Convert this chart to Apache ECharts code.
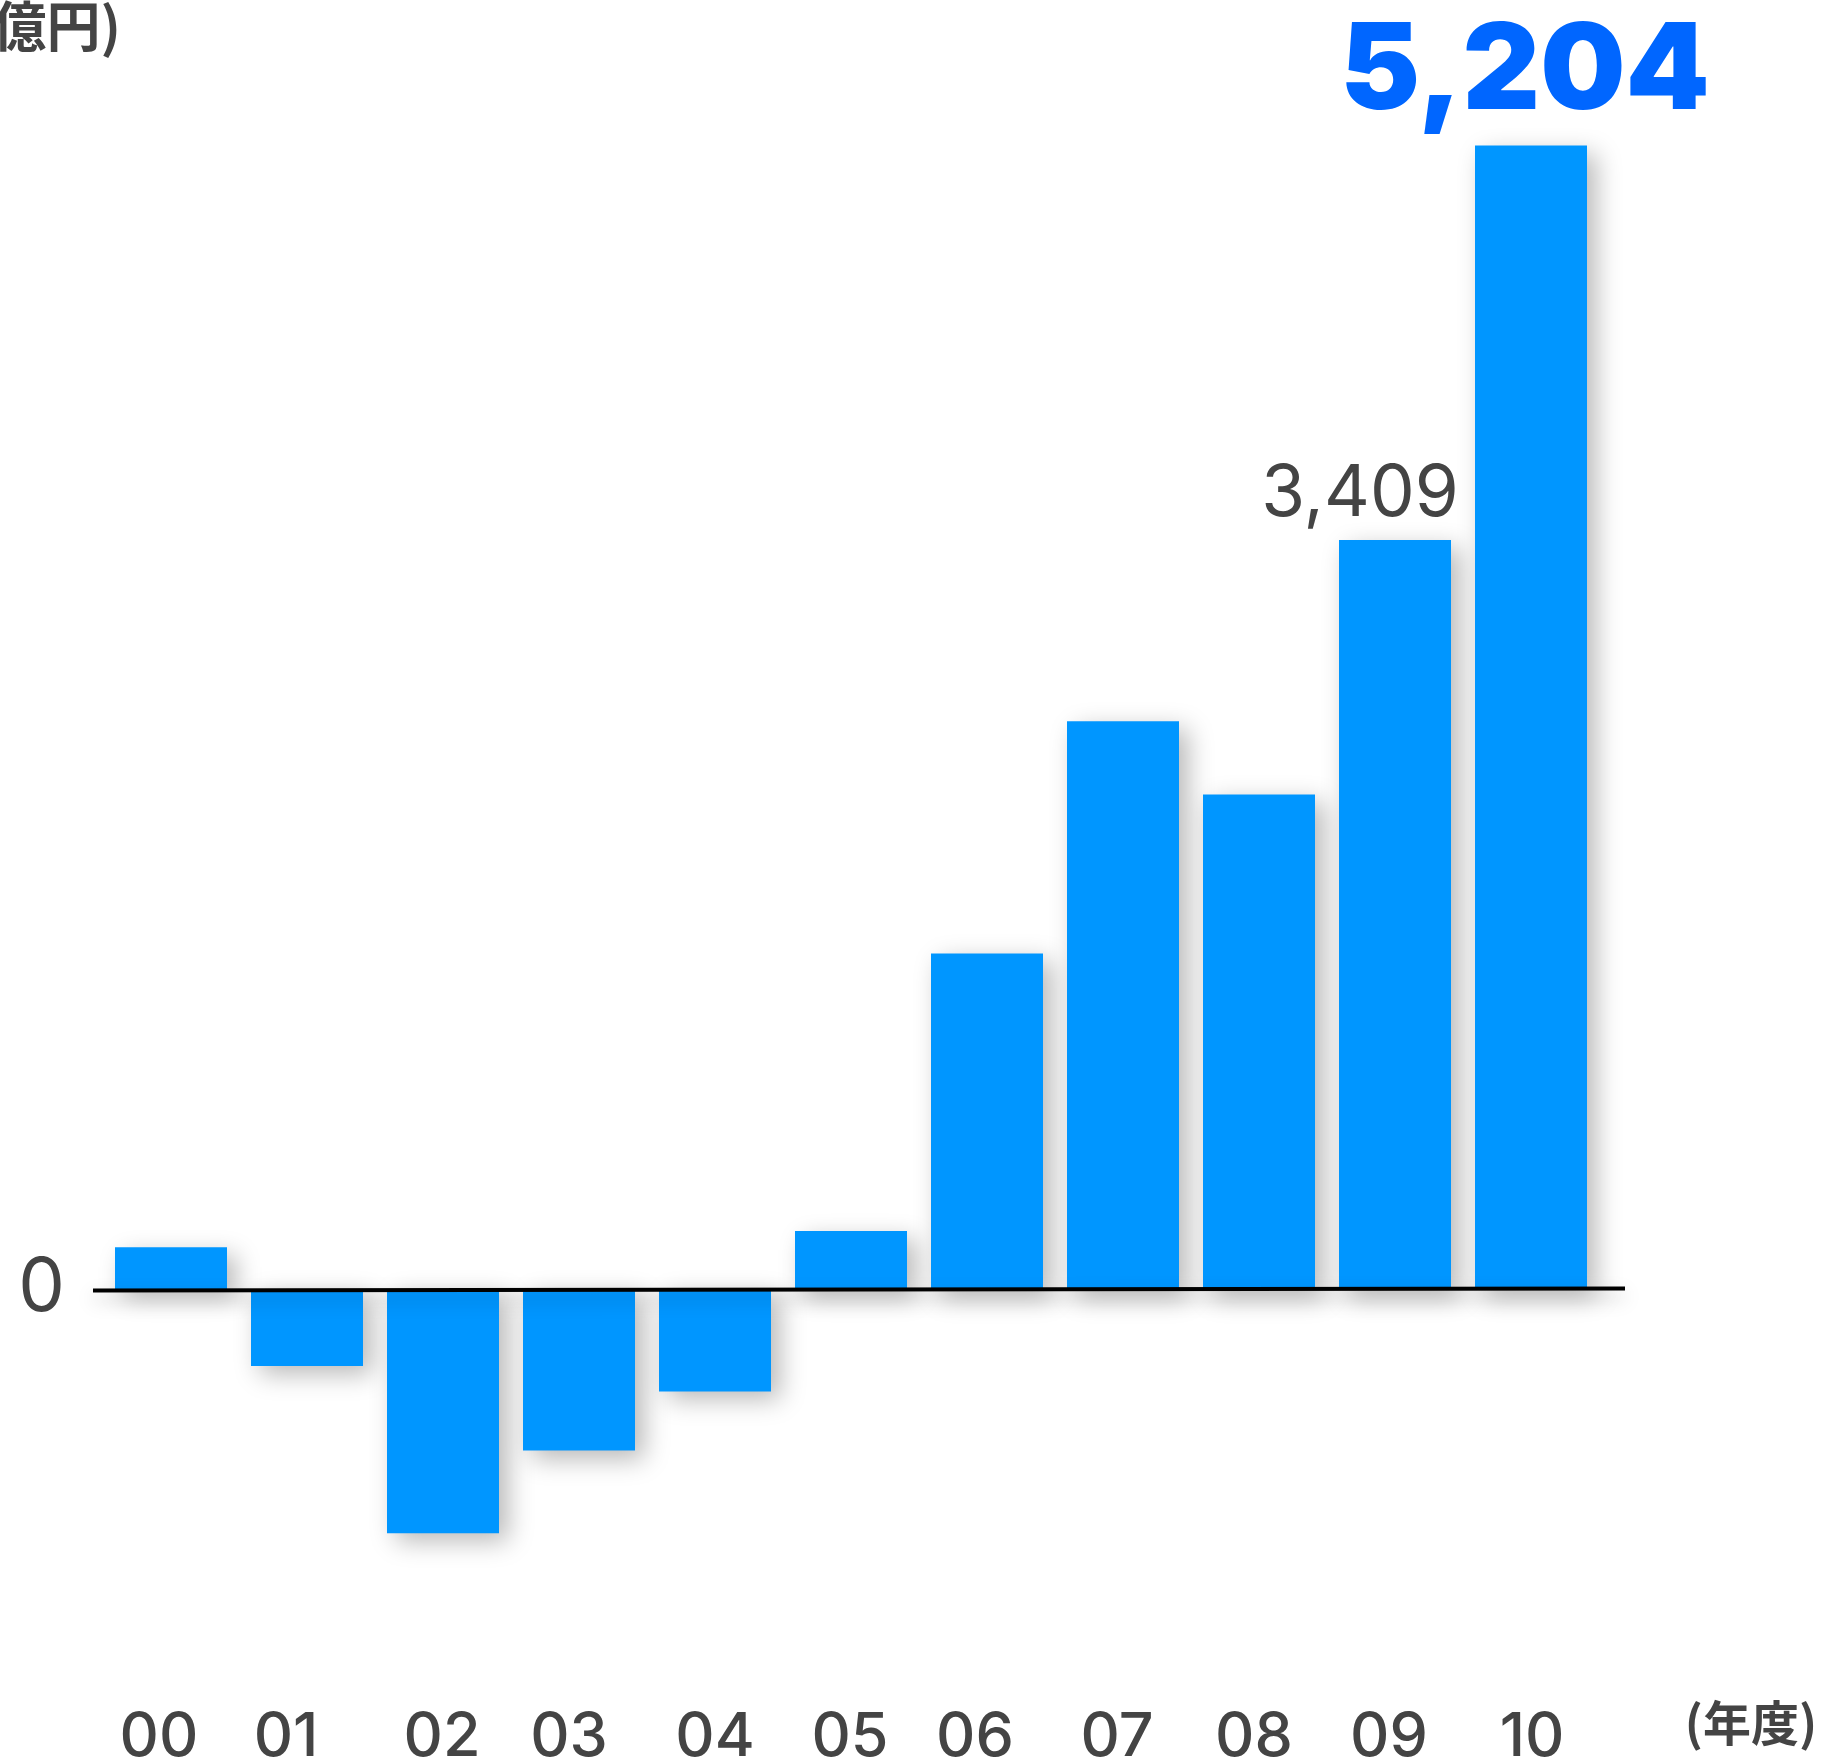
<!DOCTYPE html>
<html>
<head>
<meta charset="utf-8">
<script src="https://cdn.jsdelivr.net/npm/echarts@6/dist/echarts.min.js"></script>
<style>
  html, body { margin: 0; padding: 0; background: #ffffff; }
  #chart { width: 1821px; height: 1758px; }
</style>
</head>
<body>
<div id="chart"></div>
<script>
// ---- data ----
const years = ['00', '01', '02', '03', '04', '05', '06', '07', '08', '09', '10'];
const profit = [190, -350, -1111, -735, -466, 264, 1527, 2584, 2251, 3409, 5204];
const yTicks = [0];
const unitLabel = '(億円)';
const yearLabel = '(年度)';

// ---- styles ----
const barColor = '#0096FF';
const textGrey = '#444444';
const latin = 'Inter, "Liberation Sans", Arial, sans-serif';
const cjk = '"Noto Sans CJK JP", "Noto Sans CJK SC", sans-serif';
// horizontal nudge (px, negative = left) of each year label, as in the original artwork
const labelNudge = [-12, -21, -1, -10, 0, -1, -12, -6, -5, -6, 1];

const chart = echarts.init(document.getElementById('chart'));

const seriesData = profit.map((v, i) => {
  const item = { value: v };
  if (i === profit.length - 1) {
    item.label = {
      show: true, position: 'top', distance: 13, offset: [-6, 0],
      color: '#0066FF', fontFamily: latin, fontWeight: 900, fontSize: 120,
      formatter: p => p.value.toLocaleString('en-US')
    };
  } else if (i === profit.length - 2) {
    item.label = {
      show: true, position: 'top', distance: 10, offset: [-35, 0],
      color: textGrey, fontFamily: latin, fontWeight: 'normal', fontSize: 71,
      formatter: p => p.value.toLocaleString('en-US')
    };
  }
  return item;
});

const rich = {};
labelNudge.forEach((d, i) => {
  rich['n' + i] = {
    color: textGrey, fontFamily: latin, fontSize: 61, fontWeight: 500,
    padding: d < 0 ? [0, -2 * d, 0, 0] : [0, 0, 0, 2 * d]
  };
});

chart.setOption({
  animation: false,
  backgroundColor: '#ffffff',
  grid: { left: 103, right: 222, top: 102.5, bottom: 139.4, containLabel: false, outerBoundsMode: 'none' },
  xAxis: {
    type: 'category',
    data: years,
    position: 'bottom',
    axisLine: { show: false },
    axisTick: { show: false },
    axisLabel: {
      interval: 0, hideOverlap: false,
      color: textGrey, fontFamily: latin, fontSize: 61, fontWeight: 500, margin: 89,
      verticalAlign: 'top',
      formatter: (v, i) => '{n' + i + '|' + v + '}',
      rich: rich
    },
    splitLine: { show: false }
  },
  yAxis: {
    type: 'value',
    min: -1500, max: 5400, interval: 1500,
    axisLine: { show: false },
    axisTick: { show: false },
    splitLine: { show: false },
    axisLabel: {
      color: textGrey, fontFamily: latin, fontSize: 74, margin: 38,
      padding: [12, 0, 0, 0],
      formatter: v => (yTicks.indexOf(v) >= 0 ? String(v) : '')
    }
  },
  series: [{
    type: 'bar',
    data: seriesData,
    barWidth: 112,
    itemStyle: {
      color: barColor,
      shadowColor: 'rgba(0,0,0,0.28)',
      shadowBlur: 24,
      shadowOffsetX: 9,
      shadowOffsetY: 8
    },
    label: { show: false }
  }]
});

function drawExtras() {
  const y0 = chart.convertToPixel({ yAxisIndex: 0 }, 0);
  chart.setOption({
    graphic: [
      {
        type: 'line',
        shape: { x1: 93, y1: y0 + 1.5, x2: 1625, y2: y0 - 0.5 },
        style: {
          stroke: '#000000', lineWidth: 4,
          shadowColor: 'rgba(0,0,0,0.25)', shadowBlur: 18, shadowOffsetY: 8
        },
        z: 10
      },
      {
        type: 'text',
        style: {
          text: unitLabel, x: 121, y: 26, textAlign: 'right', textVerticalAlign: 'middle',
          fill: textGrey, font: 'bold 54px ' + cjk
        }
      },
      {
        type: 'text',
        style: {
          text: yearLabel, x: 1751, y: 1723, textAlign: 'center', textVerticalAlign: 'middle',
          fill: textGrey, font: 'bold 48px ' + cjk
        }
      }
    ]
  });
}
drawExtras();
</script>
</body>
</html>
